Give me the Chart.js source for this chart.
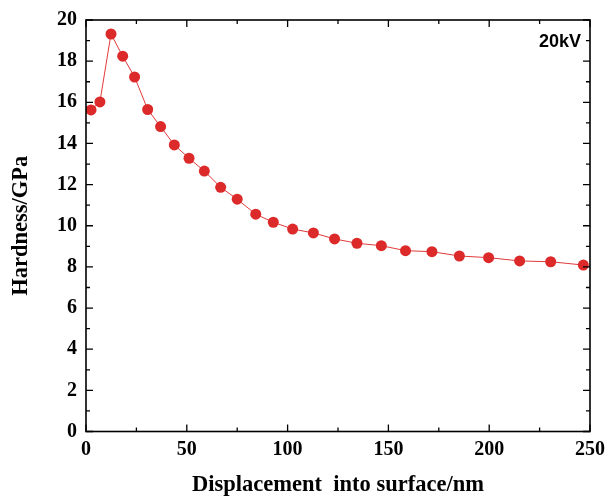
<!DOCTYPE html>
<html>
<head>
<meta charset="utf-8">
<script src="https://cdn.jsdelivr.net/npm/chart.js@4/dist/chart.umd.min.js"></script>
<style>
  html, body { margin: 0; padding: 0; background: #fff; }
  #wrap { width: 607px; height: 496px; }
</style>
</head>
<body>
<div id="wrap"><canvas id="hardness-chart" width="607" height="496"></canvas></div>
<script>
// 数据
const displacement = [2.5, 6.9, 12.4, 18.2, 24.1, 30.6, 37.0, 43.8, 51.1, 58.7, 66.8, 75.0, 84.2, 92.9,
    102.5, 112.8, 123.3, 134.4, 146.5, 158.5, 171.6, 185.2, 199.7, 215.1, 230.5, 246.7];
const hardness = [15.63, 16.02, 19.32, 18.24, 17.23, 15.65, 14.82, 13.93, 13.28, 12.66, 11.87, 11.29, 10.56, 10.17,
    9.84, 9.65, 9.36, 9.15, 9.03, 8.79, 8.74, 8.53, 8.45, 8.29, 8.25, 8.09];
const xTicks = [0, 50, 100, 150, 200, 250];
const yTicks = [0, 2, 4, 6, 8, 10, 12, 14, 16, 18, 20];
const seriesLabel = '20kV';

const serif = '"Liberation Serif", "DejaVu Serif", serif';

// 坐标框和内向刻度
const framePlugin = {
    id: 'frame',
    afterDraw(chart) {
        const ctx = chart.ctx;
        const a = chart.chartArea;
        const xs = chart.scales.x;
        const ys = chart.scales.y;
        ctx.save();
        ctx.strokeStyle = '#000';
        ctx.lineWidth = 1.6;
        ctx.strokeRect(a.left, a.top, a.right - a.left, a.bottom - a.top);
        ctx.lineWidth = 1.3;
        ctx.beginPath();
        for (let v = 0; v <= 250; v += 25) {
            const px = xs.getPixelForValue(v);
            const len = v % 50 === 0 ? 7 : 4;
            ctx.moveTo(px, a.bottom); ctx.lineTo(px, a.bottom - len);
            ctx.moveTo(px, a.top); ctx.lineTo(px, a.top + len);
        }
        for (let v = 0; v <= 20; v += 1) {
            const py = ys.getPixelForValue(v);
            const len = v % 2 === 0 ? 7 : 4;
            ctx.moveTo(a.left, py); ctx.lineTo(a.left + len, py);
            ctx.moveTo(a.right, py); ctx.lineTo(a.right - len, py);
        }
        ctx.stroke();
        // 图例文字
        ctx.fillStyle = '#000';
        ctx.font = 'bold 18px "Liberation Sans", Arial, sans-serif';
        ctx.textAlign = 'right';
        ctx.textBaseline = 'middle';
        ctx.fillText(seriesLabel, a.right - 9, a.top + 22);
        ctx.restore();
    }
};

new Chart(document.getElementById('hardness-chart'), {
    type: 'scatter',
    data: {
        datasets: [{
            label: seriesLabel,
            data: displacement.map((x, i) => ({ x: x, y: hardness[i] })),
            showLine: true,
            borderColor: '#e03a3a',
            borderWidth: 1,
            backgroundColor: '#dc2a2a',
            pointBackgroundColor: '#dc2a2a',
            pointBorderColor: '#dc2a2a',
            pointRadius: 5.5,
            pointBorderWidth: 0,
            tension: 0
        }]
    },
    options: {
        responsive: false,
        animation: false,
        layout: { padding: { left: 0, right: 17, top: 20, bottom: 0 } },
        plugins: {
            legend: { display: false },
            tooltip: { enabled: false }
        },
        scales: {
            x: {
                type: 'linear',
                min: 0,
                max: 250,
                afterBuildTicks(scale) { scale.ticks = xTicks.map(v => ({ value: v })); },
                afterFit(scale) {
                    scale.height = 64.5;
                    scale.paddingLeft = 0;
                    scale.paddingRight = 0;
                },
                grid: { display: false, drawTicks: false },
                border: { display: false },
                ticks: {
                    color: '#000',
                    padding: 6,
                    maxRotation: 0,
                    font: { family: serif, size: 20, weight: 'bold' }
                },
                title: {
                    display: true,
                    text: 'Displacement  into surface/nm',
                    color: '#000',
                    padding: { top: 10, bottom: 0 },
                    font: { family: serif, size: 22.5, weight: 'bold', lineHeight: 1.0 }
                }
            },
            y: {
                type: 'linear',
                min: 0,
                max: 20,
                afterBuildTicks(scale) { scale.ticks = yTicks.map(v => ({ value: v })); },
                afterFit(scale) {
                    scale.width = 86;
                    scale.paddingTop = 0;
                    scale.paddingBottom = 0;
                },
                grid: { display: false, drawTicks: false },
                border: { display: false },
                ticks: {
                    color: '#000',
                    padding: 9,
                    font: { family: serif, size: 20, weight: 'bold' }
                },
                title: {
                    display: true,
                    text: 'Hardness/GPa',
                    color: '#000',
                    padding: { top: 8, bottom: 0 },
                    font: { family: serif, size: 22.5, weight: 'bold' }
                }
            }
        }
    },
    plugins: [framePlugin]
});
</script>
</body>
</html>
